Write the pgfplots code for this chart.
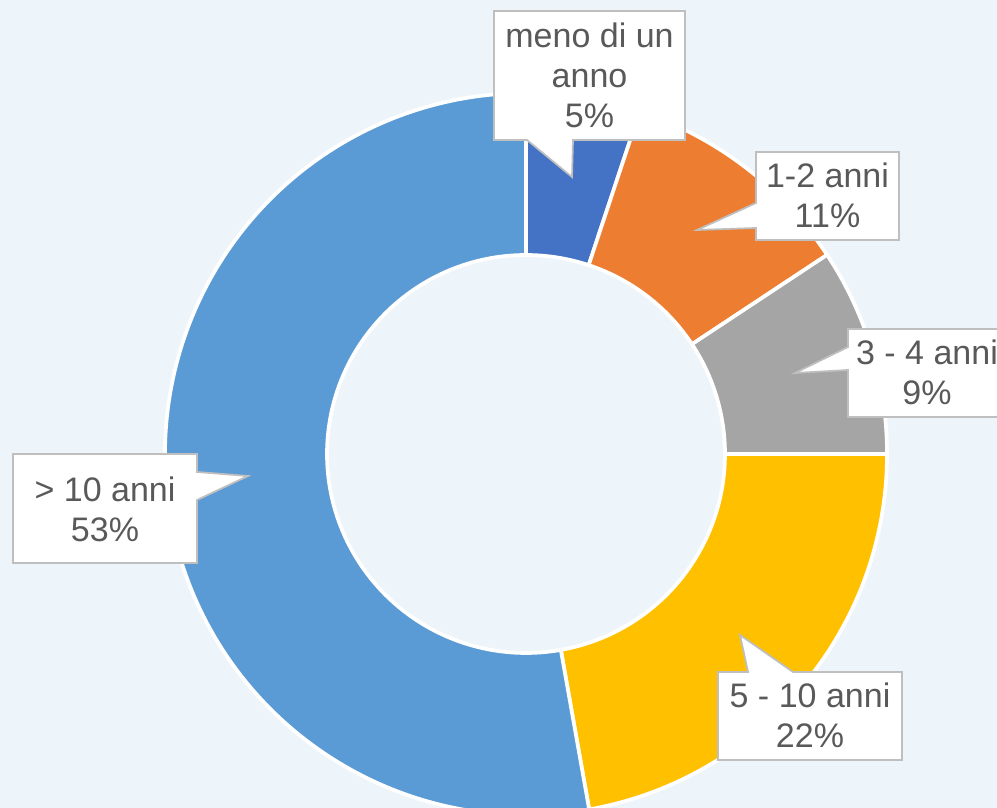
\documentclass[border=0pt]{standalone}
\usepackage{pgfplots}
\pgfplotsset{compat=1.18}
\usepackage{fontspec}
\setmainfont{Liberation Sans}
\definecolor{bg}{HTML}{EEF5FA}
\definecolor{c1}{HTML}{4472C4}
\definecolor{c2}{HTML}{ED7D31}
\definecolor{c3}{HTML}{A5A5A5}
\definecolor{c4}{HTML}{FFC000}
\definecolor{c5}{HTML}{5B9BD5}
\definecolor{txt}{HTML}{595959}
\definecolor{bord}{HTML}{BFBFBF}
% #1 = cumulative start (%), #2 = share (%), #3 = colour
\newcommand\slice[3]{%
  \fill[#3, draw=white, line width=2.1pt, line join=round]
   (axis cs:{526+361*cos(90-3.6*#1)},{354+361*sin(90-3.6*#1)})
   arc[start angle={90-3.6*#1}, end angle={90-3.6*(#1+#2)}, radius=7.22cm]
   -- (axis cs:{526+199*cos(90-3.6*(#1+#2))},{354+199*sin(90-3.6*(#1+#2))})
   arc[start angle={90-3.6*(#1+#2)}, end angle={90-3.6*#1}, radius=3.98cm]
   -- cycle;}
\newcommand\lab[3]{\node[anchor=base, text=txt, inner sep=0pt,
   font=\fontsize{19.35}{22.8}\selectfont] at (axis cs:#1,#2) {#3};}
\begin{document}
\begin{tikzpicture}
\begin{axis}[scale only axis, width=19.94cm, height=16.16cm,
  xmin=0, xmax=997, ymin=0, ymax=808, hide axis, clip=true]
\fill[bg] (axis cs:0,0) rectangle (axis cs:997,808);
\slice{0}{5.1}{c1}
\slice{5.1}{10.6}{c2}
\slice{15.7}{9.3}{c3}
\slice{25}{22.2}{c4}
\slice{47.2}{52.8}{c5}
% callouts
\filldraw[fill=white, draw=bord, line width=1pt]
  (axis cs:494,797) -- (axis cs:685,797) -- (axis cs:685,668) -- (axis cs:573,668)
  -- (axis cs:572,631) -- (axis cs:527,668) -- (axis cs:494,668) -- cycle;
\filldraw[fill=white, draw=bord, line width=1pt]
  (axis cs:756,656) -- (axis cs:899,656) -- (axis cs:899,568) -- (axis cs:756,568)
  -- (axis cs:756,580) -- (axis cs:697,578) -- (axis cs:756,605) -- cycle;
\filldraw[fill=white, draw=bord, line width=1pt]
  (axis cs:848,479) -- (axis cs:1006,479) -- (axis cs:1006,391) -- (axis cs:848,391)
  -- (axis cs:848,438) -- (axis cs:795,435) -- (axis cs:848,461) -- cycle;
\filldraw[fill=white, draw=bord, line width=1pt]
  (axis cs:718,136) -- (axis cs:748,136) -- (axis cs:740,173) -- (axis cs:793,136)
  -- (axis cs:902,136) -- (axis cs:902,48) -- (axis cs:718,48) -- cycle;
\filldraw[fill=white, draw=bord, line width=1pt]
  (axis cs:13,354) -- (axis cs:197,354) -- (axis cs:197,336) -- (axis cs:248,332)
  -- (axis cs:197,308) -- (axis cs:197,245) -- (axis cs:13,245) -- cycle;
\lab{589.5}{760}{meno di un}
\lab{589.5}{720}{anno}
\lab{589.5}{680}{5\%}
\lab{827.5}{620}{1-2 anni}
\lab{827.5}{580}{11\%}
\lab{927}{443}{3 - 4 anni}
\lab{927}{403}{9\%}
\lab{810}{100}{5 - 10 anni}
\lab{810}{60}{22\%}
\lab{105}{306}{> 10 anni}
\lab{105}{266}{53\%}
\end{axis}
\end{tikzpicture}
\end{document}
